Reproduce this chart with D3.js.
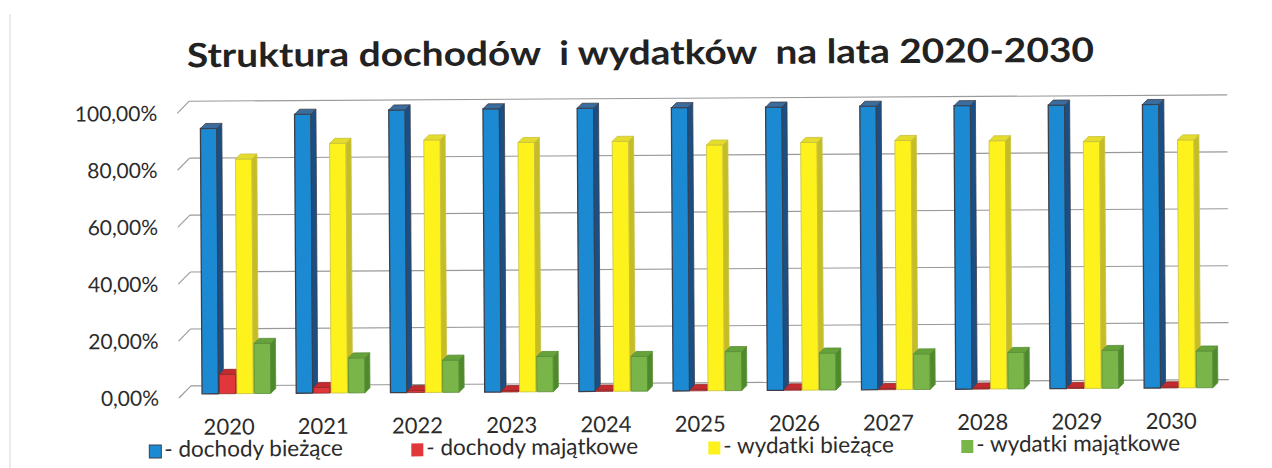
<!DOCTYPE html>
<html>
<head>
<meta charset="utf-8">
<script src="https://cdn.jsdelivr.net/npm/d3@7"></script>
<style>
  body { margin: 0; background: #fff; }
  svg { display: block; }
  text { font-family: Lato, "Open Sans", sans-serif; fill: #2b2b2b; }
</style>
</head>
<body>
<svg id="chart" width="1272" height="468"></svg>
<script>
// values (percent)
var years = ["2020", "2021", "2022", "2023", "2024", "2025", "2026", "2027", "2028", "2029", "2030"];
var dochodyBiezace   = [93.2, 98.0, 99.3, 99.5, 99.5, 99.5, 99.5, 99.6, 99.6, 99.6, 99.6];
var dochodyMajatkowe = [6.8, 2.0, 0.7, 0.5, 0.5, 0.5, 0.5, 0.4, 0.4, 0.4, 0.4];
var wydatkiBiezace   = [82.4, 87.7, 88.7, 87.6, 87.8, 86.3, 87.0, 87.5, 87.2, 86.7, 87.1];
var wydatkiMajatkowe = [17.6, 12.3, 11.3, 12.4, 12.2, 13.7, 13.0, 12.5, 12.8, 13.3, 12.9];
var yTicks = [0, 20, 40, 60, 80, 100];
var seriesNames = ["- dochody bieżące", "- dochody majątkowe", "- wydatki bieżące", "- wydatki majątkowe"];
var chartTitle = "Struktura dochodów  i wydatków  na lata 2020-2030";

var series = [dochodyBiezace, dochodyMajatkowe, wydatkiBiezace, wydatkiMajatkowe];
var palette = [
  {front: "#1b8ad2", side: "#1a4f86", top: "#3a6c9e", stroke: "#3c3f4a"},
  {front: "#e2373a", side: "#a81e22", top: "#c52b2e", stroke: "#8a2a2a"},
  {front: "#fdf21c", side: "#c5bd25", top: "#e4dc2c", stroke: "#c9c040"},
  {front: "#79b548", side: "#4e8a2c", top: "#66a23a", stroke: "#5a8f38"}
];

var svg = d3.select("#chart");
// the scan is a little tilted, so is the drawing
var root = svg.append("g").attr("transform", "rotate(-0.35,636,234)");

var floorD = {x: 12, y: -12};   // front to back of floor
var barOff = {x: 4, y: -4};     // bars front face depth
var barD = {x: 5, y: -5};       // bar thickness

var x = d3.scaleBand().domain(years).range([182, 1224]).paddingInner(0.26).paddingOuter(0.16);
var xs = d3.scaleBand().domain(d3.range(series.length)).range([0, x.bandwidth()]);
var y = d3.scaleLinear().domain([0, 100]).range([395.2, 110.5]);

// back wall gridlines
root.append("g").selectAll("line").data(yTicks).join("line")
  .attr("x1", 178 + floorD.x).attr("x2", 1216 + floorD.x)
  .attr("y1", d => y(d) + floorD.y).attr("y2", d => y(d) + floorD.y)
  .attr("stroke", "#999").attr("stroke-width", 1.1);

// little diagonal ticks at the left
root.append("g").selectAll("line").data(yTicks).join("line")
  .attr("x1", 178).attr("x2", 178 + floorD.x)
  .attr("y1", d => y(d)).attr("y2", d => y(d) + floorD.y)
  .attr("stroke", "#999").attr("stroke-width", 1.1);

// y labels
root.append("g").selectAll("text").data(yTicks).join("text")
  .attr("x", 158).attr("y", d => y(d)).attr("dy", "0.36em")
  .attr("text-anchor", "end").style("font-size", "21px")
  .text(d => d3.format(".2f")(d).replace(".", ",") + "%");

// bars
var bw = xs.bandwidth() - 1;
var groups = root.append("g").selectAll("g").data(years).join("g")
  .attr("transform", d => "translate(" + (x(d) + barOff.x) + "," + barOff.y + ")");

groups.each(function(yr, i) {
  var g = d3.select(this);
  series.forEach(function(vals, s) {
    var c = palette[s];
    var x0 = xs(s), x1 = x0 + bw;
    var yt = y(vals[i]), yb = y(0);
    g.append("rect").attr("x", x0).attr("y", yt).attr("width", bw).attr("height", yb - yt)
      .attr("fill", c.front).attr("stroke", c.stroke).attr("stroke-width", s === 0 ? 1.3 : 0.8);
    g.append("path")
      .attr("d", "M" + x1 + "," + yb + "L" + (x1 + barD.x) + "," + (yb + barD.y) +
                 "L" + (x1 + barD.x) + "," + (yt + barD.y) + "L" + x1 + "," + yt + "Z")
      .attr("fill", c.side).attr("stroke", c.stroke).attr("stroke-width", 0.8);
    g.append("path")
      .attr("d", "M" + x0 + "," + yt + "L" + (x0 + barD.x) + "," + (yt + barD.y) +
                 "L" + (x1 + barD.x) + "," + (yt + barD.y) + "L" + x1 + "," + yt + "Z")
      .attr("fill", c.top).attr("stroke", c.stroke).attr("stroke-width", 0.8);
  });
});

// x labels
root.append("g").selectAll("text").data(years).join("text")
  .attr("x", d => x(d) + x.bandwidth() / 2 - 4).attr("y", 432)
  .attr("text-anchor", "middle").style("font-size", "22px")
  .text(d => d);

// title
root.append("text").attr("x", 188).attr("y", 64.5)
  .attr("xml:space", "preserve").style("white-space", "pre")
  .style("font-size", "33.5px").style("font-weight", "bold").style("fill", "#222")
  .attr("textLength", 907).attr("lengthAdjust", "spacingAndGlyphs")
  .text(chartTitle);

// legend
var legendX = [148, 410, 707, 960];
var leg = root.append("g").selectAll("g").data(seriesNames).join("g")
  .attr("transform", (d, i) => "translate(" + legendX[i] + ",454)");
leg.append("rect").attr("x", 0).attr("y", -12).attr("width", 12).attr("height", 13)
  .attr("fill", (d, i) => palette[i].front)
  .attr("stroke", (d, i) => i === 0 ? "#3c3f4a" : "none");
leg.append("text").attr("x", 15).attr("y", 0).style("font-size", "22.5px").text(d => d);

// frame edge on the left
svg.append("line").attr("x1", 10).attr("x2", 10).attr("y1", 14).attr("y2", 468)
  .attr("stroke", "#d6d6d6").attr("stroke-width", 1);
</script>
</body>
</html>
